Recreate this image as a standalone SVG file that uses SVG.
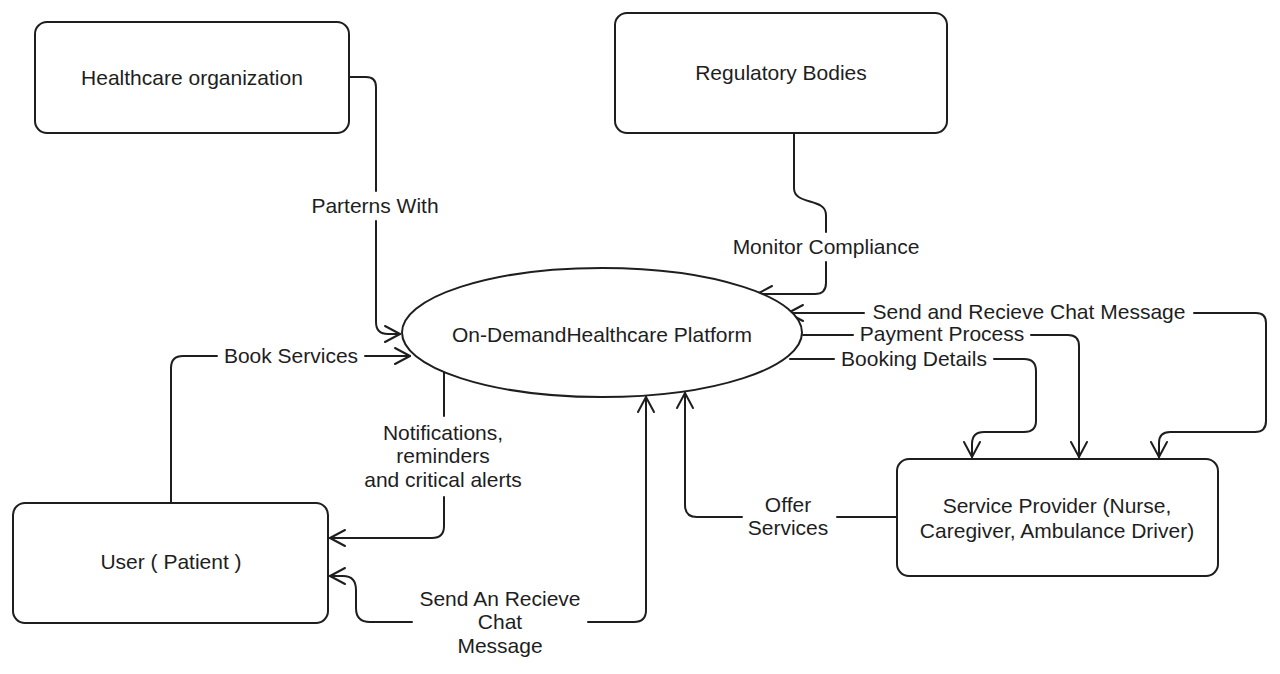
<svg xmlns="http://www.w3.org/2000/svg" width="1280" height="674" viewBox="0 0 1280 674">
<defs>
<marker id="arr" markerUnits="userSpaceOnUse" markerWidth="20" markerHeight="20" viewBox="-17 -10 20 20" refX="0" refY="0" orient="auto-start-reverse" overflow="visible">
<path d="M-15,-8 L0,0 L-15,8" fill="none" stroke="#1e1e1e" stroke-width="2" stroke-linecap="round" stroke-linejoin="round"/>
</marker>
<style>
.box{fill:#fff;stroke:#1e1e1e;stroke-width:2}
.ln{fill:none;stroke:#1e1e1e;stroke-width:2;stroke-linecap:round;stroke-linejoin:round}
.t{font-family:"Liberation Sans",Arial,Helvetica,sans-serif;font-size:21px;fill:#1e1e1e;text-anchor:middle;dominant-baseline:central}
</style>
</defs>
<rect width="1280" height="674" fill="#fff"/>

<g id="connectors">
<path class="ln" d="M350,77 L366,77 Q376,77 376,87 L376,191"/>
<path class="ln" d="M376,221 L376,322 Q376,334 388,334 L400,334" marker-end="url(#arr)"/>
<path class="ln" d="M171,502 L171,368 Q171,356 183,356 L217,356"/>
<path class="ln" d="M365,356 L410,356" marker-end="url(#arr)"/>
<path class="ln" d="M794,133 L794,188 C794,206 826,197 826,215 L826,232"/>
<path class="ln" d="M826,262 L826,283 Q826,294 815,294 L757,294" marker-end="url(#arr)"/>
<path class="ln" d="M788,313 L864,313" marker-start="url(#arr)"/>
<path class="ln" d="M1194,313 L1256,313 Q1266,313 1266,323 L1266,421 Q1266,432 1255,432 L1170,432 Q1159,432 1159,443 L1159,457" marker-end="url(#arr)"/>
<path class="ln" d="M803,335 L853,335"/>
<path class="ln" d="M1031,335 L1068,335 Q1079,335 1079,346 L1079,457" marker-end="url(#arr)"/>
<path class="ln" d="M790,359 L834,359"/>
<path class="ln" d="M994,359 L1024,359 Q1036,359 1036,371 L1036,421 Q1036,432 1024,432 L984,432 Q972,432 972,444 L972,457" marker-end="url(#arr)"/>
<path class="ln" d="M896,517 L837,517"/>
<path class="ln" d="M742,517 L697,517 Q685,517 685,505 L685,393" marker-end="url(#arr)"/>
<path class="ln" d="M444,372 L444,416"/>
<path class="ln" d="M444,497 L444,526 Q444,538 432,538 L330,538" marker-end="url(#arr)"/>
<path class="ln" d="M412,622 L370,622 Q356,622 356,608 L356,590 Q356,576 343,576 L330,576" marker-end="url(#arr)"/>
<path class="ln" d="M588,622 L634,622 Q646,622 646,610 L646,397" marker-end="url(#arr)"/>
</g>

<g id="labels">
<text class="t" x="375" y="205">Parterns With</text>
<text class="t" x="291" y="355">Book Services</text>
<text class="t" x="826" y="246">Monitor Compliance</text>
<text class="t" x="1029" y="311">Send and Recieve Chat Message</text>
<text class="t" x="942" y="333">Payment Process</text>
<text class="t" x="914" y="358">Booking Details</text>
<text class="t" x="443" y="432">Notifications,</text>
<text class="t" x="443" y="455">reminders</text>
<text class="t" x="443" y="479">and critical alerts</text>
<text class="t" x="788" y="504">Offer</text>
<text class="t" x="788" y="527">Services</text>
<text class="t" x="500" y="598">Send An Recieve</text>
<text class="t" x="500" y="621">Chat</text>
<text class="t" x="500" y="645">Message</text>
</g>

<g id="healthcare-org">
<rect class="box" x="35" y="22" width="314" height="111" rx="12"/>
<text class="t" x="192" y="77">Healthcare organization</text>
</g>
<g id="regulatory-bodies">
<rect class="box" x="615" y="13" width="332" height="120" rx="12"/>
<text class="t" x="781" y="72">Regulatory Bodies</text>
</g>
<g id="platform">
<ellipse class="box" cx="602" cy="332.5" rx="200" ry="64.5"/>
<text class="t" x="602" y="334">On-DemandHealthcare Platform</text>
</g>
<g id="user">
<rect class="box" x="13" y="503" width="315" height="120" rx="12"/>
<text class="t" x="171" y="561">User ( Patient )</text>
</g>
<g id="service-provider">
<rect class="box" x="897" y="459" width="321" height="117" rx="12"/>
<text class="t" x="1057" y="505">Service Provider (Nurse,</text>
<text class="t" x="1057" y="530">Caregiver, Ambulance Driver)</text>
</g>
</svg>
